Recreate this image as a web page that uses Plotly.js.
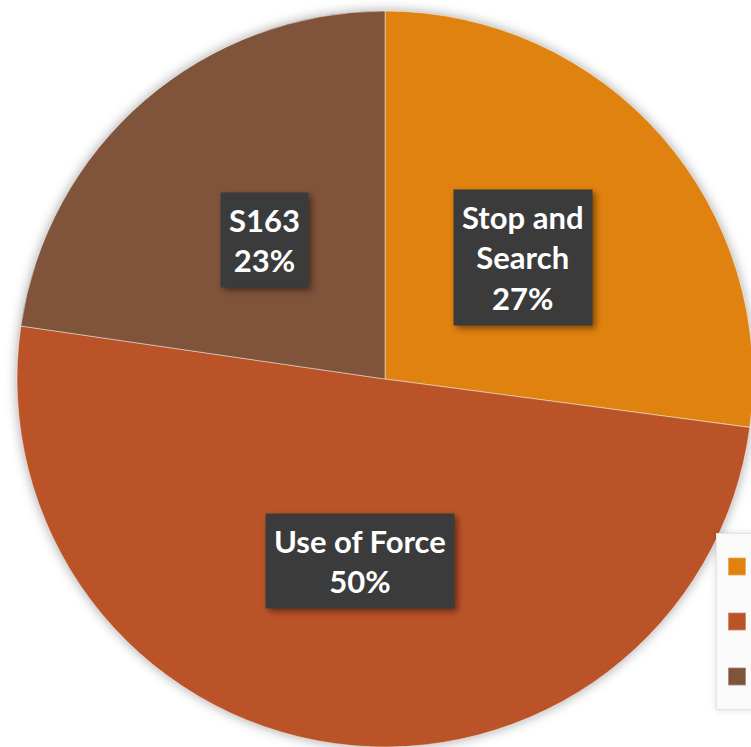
<!DOCTYPE html>
<html>
<head>
<meta charset="utf-8">
<script src="https://cdn.plot.ly/plotly-3.0.1.min.js"></script>
<style>
  html, body { margin: 0; padding: 0; background: #fff; overflow: hidden; }
  #chart { width: 770px; height: 770px; }
  .pielayer .trace { filter: drop-shadow(0 0 6px rgba(0,0,0,0.35)); }
  .annotation .bg { filter: drop-shadow(3px 3px 3px rgba(0,0,0,0.45)); }
  .legend .bg { filter: drop-shadow(0 0 3px rgba(0,0,0,0.15)); }
  .legend path.legendpie { transform: translate(20px, 0px) scale(1.5); }
</style>
</head>
<body>
<div id="chart"></div>
<script>
const categories = ['Stop and Search', 'Use of Force', 'S163'];
const shares = [27.1, 50.2, 22.7];
const sliceColors = ['#E0820F', '#BA5428', '#80533B'];
const labelLines = ['Stop and<br>Search', 'Use of Force', 'S163'];

const W = 770, H = 770;
const cx = 385, cy = 379, R = 368;

// label boxes sit halfway out along each slice's mid angle
const total = shares.reduce((a, b) => a + b, 0);
let cum = 0;
const annotations = shares.map((v, i) => {
    const mid = (cum + v / 2) / total * 2 * Math.PI;
    cum += v;
    const px = cx + 0.5 * R * Math.sin(mid);
    const py = cy - 0.5 * R * Math.cos(mid);
    return {
        x: px / W,
        y: 1 - py / H,
        xref: 'paper',
        yref: 'paper',
        xanchor: 'center',
        yanchor: 'middle',
        showarrow: false,
        text: '<b>' + labelLines[i] + '<br>' + Math.round(v / total * 100) + '%</b>',
        font: {family: 'Lato, sans-serif', size: 31, color: '#ffffff'},
        bgcolor: '#3b3b3b',
        borderpad: 8,
        align: 'center'
    };
});

Plotly.newPlot('chart', [{
    type: 'pie',
    labels: categories,
    values: shares,
    sort: false,
    direction: 'clockwise',
    rotation: 0,
    textinfo: 'none',
    hoverinfo: 'none',
    marker: {colors: sliceColors, line: {color: 'rgba(255,255,255,0.45)', width: 1}},
    domain: {x: [(cx - R) / W, (cx + R) / W], y: [1 - (cy + R) / H, 1 - (cy - R) / H]}
}], {
    width: W,
    height: H,
    margin: {l: 0, r: 0, t: 0, b: 0, autoexpand: false},
    paper_bgcolor: '#ffffff',
    showlegend: true,
    legend: {
        x: 716 / W,
        y: 1 - 533 / H,
        xanchor: 'left',
        yanchor: 'top',
        bgcolor: '#fafafa',
        bordercolor: '#e4e4e4',
        borderwidth: 1,
        font: {family: 'Lato, sans-serif', size: 40, color: '#595959'}
    },
    annotations: annotations
}, {staticPlot: true});
</script>
</body>
</html>
